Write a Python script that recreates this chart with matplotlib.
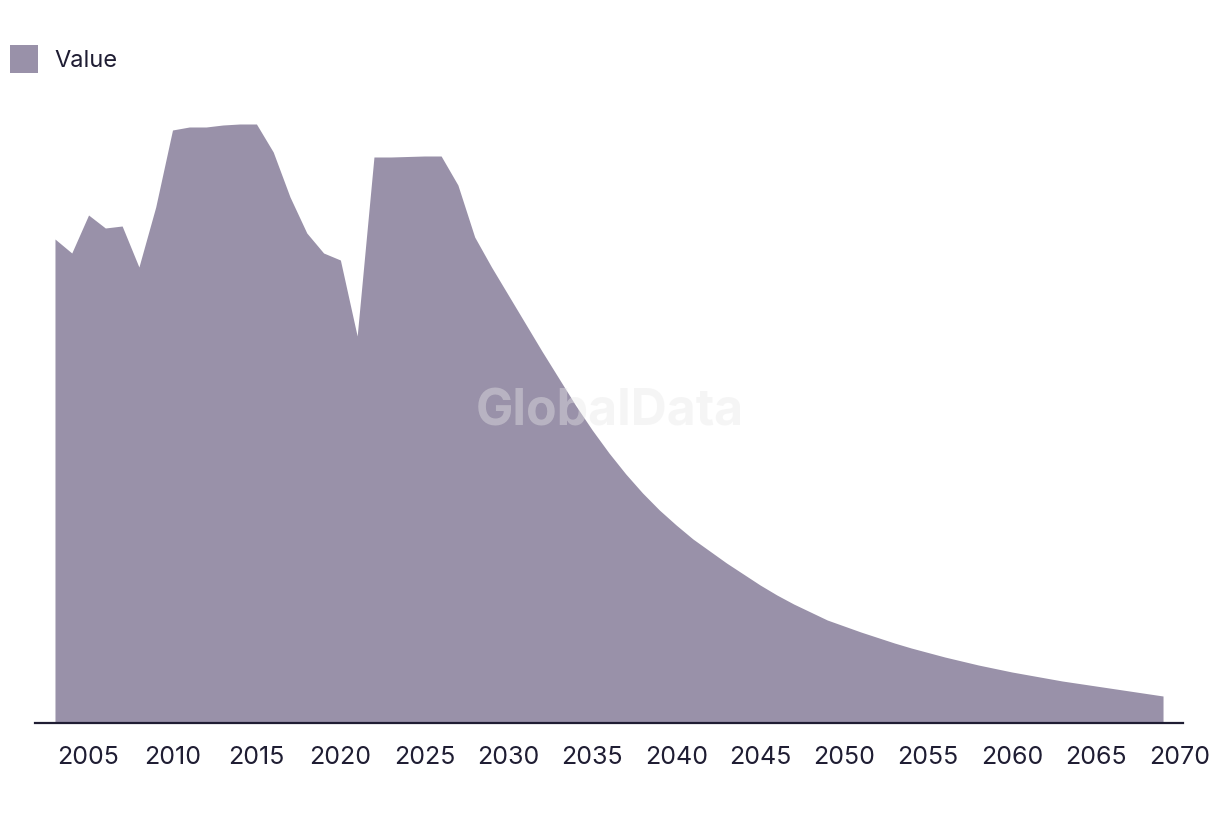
import numpy as np
import matplotlib.pyplot as plt
from matplotlib.patches import Patch

# Роки та значення (оцінені з графіка)
years = list(range(2003, 2070))
values = [484, 470, 508, 495, 497, 456, 516, 593, 596, 596,
          598, 599, 599, 571, 526, 490, 470, 463, 387, 566,
          566, 566.5, 567, 567, 538, 486, 456, 428, 400, 372,
          345, 318, 293, 270, 249, 230, 213, 198, 184, 172,
          160, 149, 138, 128, 119, 111, 103, 97, 91, 85.5,
          80, 75, 70.5, 66, 62, 58, 54.5, 51, 48, 45,
          42, 39.5, 37, 34.5, 32, 29.5, 27]
tick_years = list(range(2005, 2075, 5))
series_name = 'Value'

fill_color = '#9991a9'
text_color = '#1f1d33'

plt.rcParams['font.family'] = ['Inter', 'DejaVu Sans']

fig = plt.figure(figsize=(12.2, 8.16), dpi=100)
ax = fig.add_axes([35 / 1220, 1 - 723 / 816, 1148 / 1220, 623 / 816])

ax.fill_between(years, values, 0, color=fill_color, linewidth=0)

ax.set_xlim(2001.81, 2070.19)
ax.set_ylim(0, 623)

for s in ['top', 'right', 'left']:
    ax.spines[s].set_visible(False)
ax.spines['bottom'].set_color(text_color)
ax.spines['bottom'].set_linewidth(1.6)

ax.set_yticks([])
ax.set_xticks(tick_years)
ax.tick_params(axis='x', length=0, pad=16.5, labelsize=18, labelcolor=text_color)

# Водяний знак
fig.text(0.5, 1 - 412 / 816, 'GlobalData', ha='center', va='center',
         fontsize=36, fontweight='bold', color='#e8e8e8', alpha=0.4)

# Легенда
fig.legend(handles=[Patch(facecolor=fill_color, label=series_name)],
           loc='center left', bbox_to_anchor=(10 / 1220, 1 - 59 / 816),
           frameon=False, fontsize=17, handlelength=1.2, handleheight=1.4,
           handletextpad=0.7, borderaxespad=0, borderpad=0,
           labelcolor=text_color)

fig.savefig('out.png', dpi=100)
